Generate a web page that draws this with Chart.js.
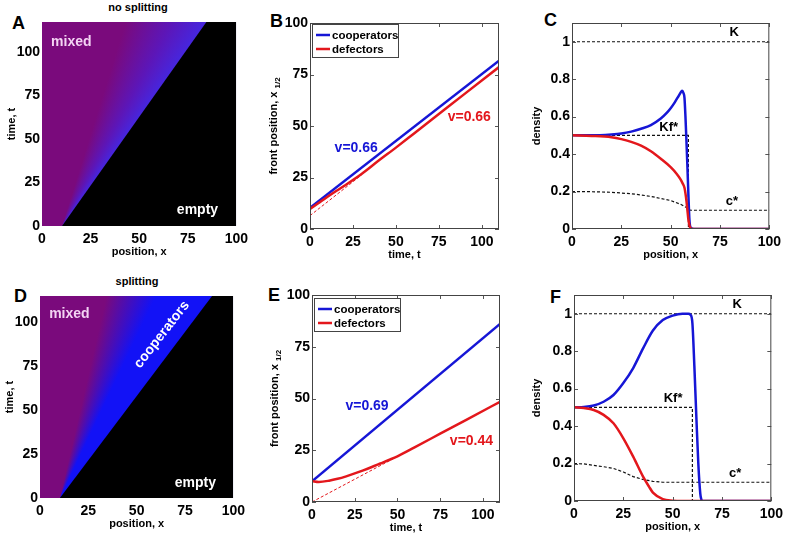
<!DOCTYPE html>
<html>
<head>
<meta charset="utf-8">
<script src="https://cdn.jsdelivr.net/npm/chart.js@4.4.1/dist/chart.umd.min.js"></script>
<style>
  body { margin: 0; background: #fff; }
  #fig { position: relative; width: 786px; height: 537px; overflow: hidden; font-family: "Liberation Sans", Arial, sans-serif; }
  #fig canvas { position: absolute; }
  .lbl { position: absolute; font-weight: bold; white-space: nowrap; line-height: 1; }
  .letter { font-size: 18px; }
  .ttl { font-size: 11px; transform: translateX(-50%); }
</style>
</head>
<body>
<div id="fig">
  <div class="lbl ttl" style="left:138px;top:2px">no splitting</div>
  <div class="lbl ttl" style="left:137px;top:276px">splitting</div>
  <div class="lbl letter" style="left:12px;top:14px">A</div>
  <div class="lbl letter" style="left:270px;top:12px">B</div>
  <div class="lbl letter" style="left:544px;top:11px">C</div>
  <div class="lbl letter" style="left:14px;top:287px">D</div>
  <div class="lbl letter" style="left:268px;top:286px">E</div>
  <div class="lbl letter" style="left:550px;top:288px">F</div>
</div>
<script>
// ---- data ----
const seriesNames = ['cooperators', 'defectors'];

const posTicks = [0, 25, 50, 75, 100];
const timeTicks = [0, 25, 50, 75, 100];
const densityTicks = [0, 0.2, 0.4, 0.6, 0.8, 1];

// A / D : front of the colony (position x reached at time t)
const frontTimeA = [0, 117];
const frontPosA = [10.3, 84.6];
const frontTimeD = [0, 115];
const frontPosD = [10.3, 89];

// B : front position vs time, no splitting
const timeB = [0, 110];
const coopB = [10.3, 81.7];
const timeDefB = [0, 5, 10, 15, 20, 30, 40, 50, 60, 75, 90, 110];
const defB = [9.7, 12.6, 15.5, 18.3, 21.0, 26.7, 33.2, 39.5, 46.0, 55.8, 65.6, 78.6];
const timeFitB = [0, 30];
const fitB = [6.5, 26.2];

// E : front position vs time, splitting
const timeE = [0, 110];
const coopE = [10, 86];
const timeDefE = [0, 4, 10, 15, 20, 25, 30, 35, 40, 45, 50, 60, 75, 90, 110];
const defE = [10.1, 9.7, 10.3, 11.2, 12.4, 13.8, 15.3, 16.9, 18.6, 20.3, 22.1, 26.4, 33.0, 39.6, 48.4];
const timeFitE = [0, 55];
const fitE = [0, 24.2];

// C : density profiles, no splitting
const xCoopC = [0, 10, 20, 25, 30, 35, 40, 45, 48, 50, 52, 54, 55, 55.8, 56.5, 57, 57.5, 58, 58.5, 59, 59.5, 60, 61, 62, 100];
const coopC = [0.5, 0.5, 0.505, 0.51, 0.52, 0.535, 0.555, 0.59, 0.62, 0.645, 0.675, 0.71, 0.728, 0.738, 0.725, 0.7, 0.6, 0.47, 0.33, 0.18, 0.05, 0.01, 0.002, 0, 0];
const xDefC = [0, 10, 20, 25, 30, 35, 40, 45, 50, 53, 55, 56, 57, 57.5, 58, 58.5, 59, 59.5, 60, 61, 100];
const defC = [0.5, 0.497, 0.49, 0.48, 0.465, 0.445, 0.415, 0.375, 0.33, 0.295, 0.265, 0.245, 0.22, 0.19, 0.15, 0.1, 0.05, 0.02, 0.005, 0, 0];
const xCstarC = [0, 10, 20, 25, 30, 35, 40, 45, 50, 55, 58, 59, 60, 100];
const cstarC = [0.2, 0.199, 0.196, 0.192, 0.188, 0.182, 0.174, 0.163, 0.152, 0.132, 0.115, 0.107, 0.1, 0.1];
const xKfC = [0, 59, 59];
const kfC = [0.5, 0.5, 0];

// F : density profiles, splitting
const xCoopF = [0, 5, 10, 15, 20, 25, 30, 35, 40, 45, 50, 55, 58, 59, 60, 61, 62, 63, 64, 64.5, 65, 100];
const coopF = [0.5, 0.502, 0.51, 0.53, 0.566, 0.63, 0.71, 0.815, 0.91, 0.966, 0.99, 1.0, 1.0, 0.995, 0.95, 0.72, 0.45, 0.2, 0.04, 0.01, 0, 0];
const xDefF = [0, 5, 10, 15, 20, 25, 30, 35, 38, 40, 45, 50, 55, 100];
const defF = [0.5, 0.496, 0.486, 0.46, 0.415, 0.335, 0.237, 0.13, 0.077, 0.045, 0.01, 0.002, 0, 0];
const xCstarF = [0, 5, 10, 15, 20, 25, 30, 35, 40, 45, 100];
const cstarF = [0.2, 0.198, 0.19, 0.183, 0.174, 0.155, 0.13, 0.115, 0.105, 0.1, 0.1];
const xKfF = [0, 60, 60];
const kfF = [0.5, 0.5, 0];

const xK = [0, 100];
const kLevel = [1, 1];

// ---- styling ----
const FONT = '"Liberation Sans", Arial, sans-serif';
const BLUE = '#1616d6';
const RED = '#e3171c';
const PURPLE = '#7a0a7c';
const PAD = { l: 50, t: 12, r: 16, b: 42 };

function pts(xs, ys) {
    return xs.map((x, i) => ({ x: x, y: ys[i] }));
}

function strokeLine(ctx, x1, y1, x2, y2) {
    ctx.beginPath();
    ctx.moveTo(x1, y1);
    ctx.lineTo(x2, y2);
    ctx.stroke();
}

// inward tick marks on all four sides plus the box
const frame = {
    id: 'frame',
    afterDatasetsDraw(chart, args, o) {
        if (!o.show) return;
        const { ctx, chartArea: a, scales } = chart;
        ctx.save();
        ctx.strokeStyle = '#555';
        ctx.lineWidth = 1;
        scales.x.ticks.forEach(t => {
            const p = Math.round(scales.x.getPixelForValue(t.value)) + 0.5;
            strokeLine(ctx, p, a.bottom, p, a.bottom - 4);
            strokeLine(ctx, p, a.top, p, a.top + 4);
        });
        scales.y.ticks.forEach(t => {
            const p = Math.round(scales.y.getPixelForValue(t.value)) + 0.5;
            strokeLine(ctx, a.left, p, a.left + 4, p);
            strokeLine(ctx, a.right, p, a.right - 4, p);
        });
        ctx.strokeStyle = '#444';
        ctx.strokeRect(a.left + 0.5, a.top + 0.5, a.right - a.left - 1, a.bottom - a.top - 1);
        ctx.restore();
    }
};

// text annotations placed in data coordinates
const notes = {
    id: 'notes',
    afterDatasetsDraw(chart, args, o) {
        const { ctx, scales } = chart;
        (o.items || []).forEach(n => {
            ctx.save();
            ctx.translate(scales.x.getPixelForValue(n.x), scales.y.getPixelForValue(n.y));
            if (n.rot) ctx.rotate(n.rot * Math.PI / 180);
            ctx.font = 'bold ' + (n.size || 14) + 'px ' + FONT;
            ctx.fillStyle = n.color;
            ctx.textAlign = 'center';
            ctx.textBaseline = 'middle';
            ctx.fillText(n.text, 0, 0);
            ctx.restore();
        });
    }
};

// axis titles (y title may carry a subscript)
const titles = {
    id: 'titles',
    afterDraw(chart, args, o) {
        const { ctx, chartArea: a } = chart;
        ctx.save();
        ctx.fillStyle = '#000';
        ctx.font = 'bold 11px ' + FONT;
        ctx.textAlign = 'center';
        ctx.textBaseline = 'middle';
        ctx.fillText(o.x, (a.left + a.right) / 2, a.bottom + 26);
        ctx.translate(a.left - o.yOff, (a.top + a.bottom) / 2);
        ctx.rotate(-Math.PI / 2);
        ctx.textAlign = 'left';
        const w1 = ctx.measureText(o.y).width;
        let w2 = 0;
        if (o.sub) {
            ctx.font = 'bold 8px ' + FONT;
            w2 = ctx.measureText(o.sub).width + 3;
        }
        const x0 = -(w1 + w2) / 2;
        ctx.font = 'bold 11px ' + FONT;
        ctx.fillText(o.y, x0, 0);
        if (o.sub) {
            ctx.font = 'bold 8px ' + FONT;
            ctx.fillText(o.sub, x0 + w1 + 3, 4);
        }
        ctx.restore();
    }
};

// legend box inside the plot, top left
const boxLegend = {
    id: 'boxLegend',
    afterDatasetsDraw(chart, args, o) {
        if (!o.items) return;
        const { ctx, chartArea: a } = chart;
        const x = a.left + 2, y = a.top + o.dy;
        ctx.save();
        ctx.fillStyle = '#fff';
        ctx.fillRect(x, y, 87, 34);
        ctx.strokeStyle = '#444';
        ctx.lineWidth = 1;
        ctx.strokeRect(x + 0.5, y + 0.5, 86, 33);
        o.items.forEach((it, i) => {
            const yy = y + 11 + i * 14;
            ctx.strokeStyle = it.color;
            ctx.lineWidth = 2.5;
            strokeLine(ctx, x + 4, yy, x + 18, yy);
            ctx.fillStyle = '#000';
            ctx.font = 'bold 11.5px ' + FONT;
            ctx.textBaseline = 'middle';
            ctx.fillText(it.text, x + 20, yy + 1);
        });
        ctx.restore();
    }
};

Chart.register(frame, notes, titles, boxLegend);

function axis(max, ticks, isX) {
    return {
        type: 'linear', min: 0, max: max,
        grid: { display: false, drawTicks: false }, border: { display: false },
        afterFit: s => { if (isX) s.height = PAD.b; else s.width = PAD.l; },
        afterBuildTicks: s => { s.ticks = ticks.map(v => ({ value: v })); },
        ticks: {
            font: { family: FONT, size: 14, weight: 'bold' }, color: '#000',
            padding: isX ? 5 : 2, autoSkip: false, maxRotation: 0,
            callback: v => String(v)
        }
    };
}

function makeChart(rect, o) {
    const cv = document.createElement('canvas');
    const w = rect.R - rect.L + PAD.l + PAD.r;
    const h = rect.B - rect.T + PAD.t + PAD.b;
    cv.width = w; cv.height = h;
    cv.style.left = (rect.L - PAD.l) + 'px';
    cv.style.top = (rect.T - PAD.t) + 'px';
    document.getElementById('fig').appendChild(cv);
    new Chart(cv.getContext('2d'), {
        type: 'line',
        data: { datasets: o.datasets },
        options: {
            responsive: false, animation: false, events: [],
            layout: { padding: { left: 0, top: PAD.t, right: PAD.r, bottom: 0 } },
            elements: { point: { radius: 0 } },
            plugins: {
                legend: { display: false }, tooltip: { enabled: false },
                frame: { show: o.frame },
                notes: { items: o.notes },
                titles: { x: o.xTitle, y: o.yTitle, sub: o.ySub, yOff: o.yOff },
                boxLegend: { items: o.legend, dy: o.legendDy }
            },
            scales: { x: axis(o.xMax, o.xTicks, true), y: axis(o.yMax, o.yTicks, false) }
        }
    });
}

// conic gradient fanning out from the start of the front
function fanGradient(chart, fx, ft, stops) {
    const { ctx, chartArea, scales } = chart;
    if (!chartArea) return PURPLE;
    const x0 = scales.x.getPixelForValue(fx[0]), y0 = scales.y.getPixelForValue(ft[0]);
    const x1 = scales.x.getPixelForValue(fx[1]), y1 = scales.y.getPixelForValue(ft[1]);
    const fa = Math.atan2(y1 - y0, x1 - x0);
    const g = ctx.createConicGradient(-Math.PI, x0, y0);
    const off = d => Math.min(1, Math.max(0, (fa - d * Math.PI / 180 + Math.PI) / (2 * Math.PI)));
    g.addColorStop(0, PURPLE);
    stops.forEach(s => g.addColorStop(off(s[0]), s[1]));
    g.addColorStop(1, stops[stops.length - 1][1]);
    return g;
}

function heatSets(fx, ft, tMax, stops) {
    return [
        { data: pts(fx, ft).concat([{ x: 100, y: tMax }]), borderWidth: 0, fill: 'start', backgroundColor: '#000', order: 1 },
        { data: [{ x: 0, y: tMax }, { x: 100, y: tMax }], borderWidth: 0, fill: 'start', order: 2,
          backgroundColor: c => fanGradient(c.chart, fx, ft, stops) }
    ];
}

function curve(xs, ys, color, order) {
    return { data: pts(xs, ys), borderColor: color, borderWidth: 2.5, fill: false, order: order,
             cubicInterpolationMode: 'monotone' };
}

function dashed(xs, ys, color, width, order) {
    return { data: pts(xs, ys), borderColor: color, borderWidth: width, borderDash: [3, 2], fill: false, order: order };
}

const legendItems = [{ text: seriesNames[0], color: BLUE }, { text: seriesNames[1], color: RED }];

// A
makeChart({ L: 42, T: 22, R: 237, B: 226 }, {
    xMax: 100, yMax: 117, xTicks: posTicks, yTicks: timeTicks, frame: false,
    xTitle: 'position, x', yTitle: 'time, t', yOff: 30,
    datasets: heatSets(frontPosA, frontTimeA, 117, [[18, PURPLE], [7, '#5c16b8'], [0, '#4626de']]),
    notes: [
        { text: 'mixed', x: 15.1, y: 105.6, color: '#f3d3f3' },
        { text: 'empty', x: 80, y: 9.2, color: '#fff' }
    ]
});

// B
makeChart({ L: 310, T: 23, R: 499, B: 229 }, {
    xMax: 110, yMax: 100, xTicks: timeTicks, yTicks: posTicks, frame: true,
    xTitle: 'time, t', yTitle: 'front position, x', ySub: '1/2', yOff: 36,
    datasets: [
        curve(timeDefB, defB, RED, 1),
        curve(timeB, coopB, BLUE, 2),
        dashed(timeFitB, fitB, RED, 1, 3)
    ],
    notes: [
        { text: 'v=0.66', x: 26.9, y: 39.3, color: BLUE },
        { text: 'v=0.66', x: 92.7, y: 54.4, color: RED }
    ],
    legend: legendItems, legendDy: 1
});

// C
makeChart({ L: 572, T: 23, R: 770, B: 229 }, {
    xMax: 100, yMax: 1.1, xTicks: posTicks, yTicks: densityTicks, frame: true,
    xTitle: 'position, x', yTitle: 'density', yOff: 35,
    datasets: [
        curve(xDefC, defC, RED, 1),
        curve(xCoopC, coopC, BLUE, 2),
        dashed(xK, kLevel, '#111', 1.2, 3),
        dashed(xKfC, kfC, '#111', 1.2, 3),
        dashed(xCstarC, cstarC, '#111', 1.2, 3)
    ],
    notes: [
        { text: 'K', x: 82.2, y: 1.05, color: '#000', size: 13 },
        { text: 'Kf*', x: 49, y: 0.544, color: '#000', size: 13 },
        { text: 'c*', x: 81, y: 0.145, color: '#000', size: 13 }
    ]
});

// D
makeChart({ L: 40, T: 296, R: 234, B: 498 }, {
    xMax: 100, yMax: 115, xTicks: posTicks, yTicks: timeTicks, frame: false,
    xTitle: 'position, x', yTitle: 'time, t', yOff: 30,
    datasets: heatSets(frontPosD, frontTimeD, 115, [[24, PURPLE], [11.5, '#1212f6'], [0, '#1212f6']]),
    notes: [
        { text: 'mixed', x: 15.2, y: 104.8, color: '#f3d3f3' },
        { text: 'empty', x: 80.4, y: 8.5, color: '#fff' },
        { text: 'cooperators', x: 63, y: 93, color: '#fff', rot: -52 }
    ]
});

// E
makeChart({ L: 312, T: 295, R: 500, B: 502 }, {
    xMax: 110, yMax: 100, xTicks: timeTicks, yTicks: posTicks, frame: true,
    xTitle: 'time, t', yTitle: 'front position, x', ySub: '1/2', yOff: 37,
    datasets: [
        curve(timeDefE, defE, RED, 1),
        curve(timeE, coopE, BLUE, 2),
        dashed(timeFitE, fitE, RED, 1, 3)
    ],
    notes: [
        { text: 'v=0.69', x: 32.2, y: 46.4, color: BLUE },
        { text: 'v=0.44', x: 93.3, y: 29.5, color: RED }
    ],
    legend: legendItems, legendDy: 3
});

// F
makeChart({ L: 574, T: 295, R: 772, B: 501 }, {
    xMax: 100, yMax: 1.1, xTicks: posTicks, yTicks: densityTicks, frame: true,
    xTitle: 'position, x', yTitle: 'density', yOff: 37,
    datasets: [
        curve(xDefF, defF, RED, 1),
        curve(xCoopF, coopF, BLUE, 2),
        dashed(xK, kLevel, '#111', 1.2, 3),
        dashed(xKfF, kfF, '#111', 1.2, 3),
        dashed(xCstarF, cstarF, '#111', 1.2, 3)
    ],
    notes: [
        { text: 'K', x: 82.7, y: 1.05, color: '#000', size: 13 },
        { text: 'Kf*', x: 50.2, y: 0.55, color: '#000', size: 13 },
        { text: 'c*', x: 81.7, y: 0.148, color: '#000', size: 13 }
    ]
});
</script>
</body>
</html>
